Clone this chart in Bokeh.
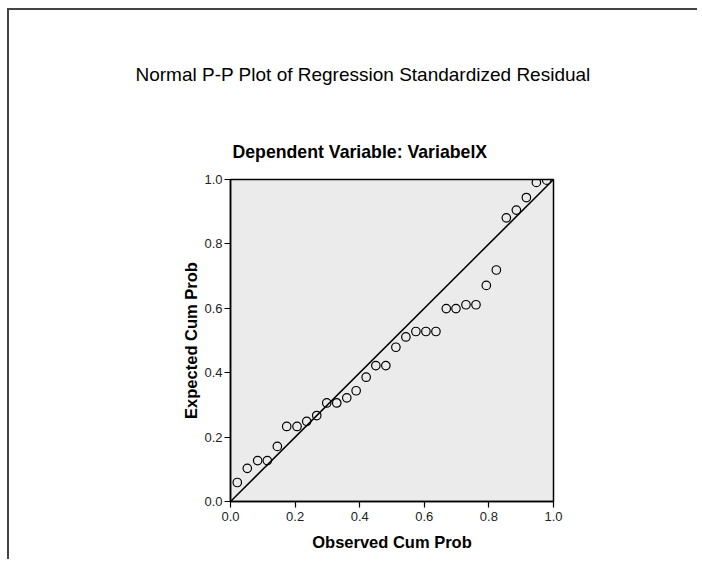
from bokeh.plotting import figure
from bokeh.models import Title, FixedTicker, NumeralTickFormatter, Range1d
from bokeh.embed import file_html
from bokeh.resources import INLINE

# Observed vs expected cumulative probabilities
observed = [0.021, 0.052, 0.084, 0.114, 0.145, 0.174, 0.206, 0.236, 0.267, 0.298,
            0.329, 0.360, 0.389, 0.420, 0.450, 0.481, 0.512, 0.543, 0.574, 0.605,
            0.636, 0.668, 0.698, 0.729, 0.760, 0.792, 0.823, 0.854, 0.885, 0.916,
            0.947, 0.979]
expected = [0.059, 0.103, 0.127, 0.127, 0.171, 0.233, 0.233, 0.249, 0.267, 0.306,
            0.306, 0.322, 0.344, 0.386, 0.422, 0.422, 0.479, 0.511, 0.528, 0.528,
            0.528, 0.599, 0.599, 0.611, 0.611, 0.671, 0.719, 0.881, 0.905, 0.944,
            0.991, 0.998]
diag_x = [0.0, 1.0]
diag_y = [0.0, 1.0]
ticks = [0.0, 0.2, 0.4, 0.6, 0.8, 1.0]

title_text = "Normal P-P Plot of Regression Standardized Residual"
subtitle_text = "Dependent Variable: VariabelX"
x_label = "Observed Cum Prob"
y_label = "Expected Cum Prob"

FONT = "Liberation Sans"

p = figure(width=690, height=551,
           x_range=Range1d(0, 1), y_range=Range1d(0, 1),
           output_backend="svg", toolbar_location=None,
           min_border_left=221, min_border_right=146,
           min_border_top=169, min_border_bottom=60,
           background_fill_color="#ebebeb", border_fill_color="white",
           outline_line_color="black", outline_line_width=1.5,
           title=None)
p.styles = {"margin-left": "7px", "margin-top": "8px",
            "border-left": "2px solid #444", "border-top": "2px solid #444"}

# titles (first added is closest to the plot)
sub = Title(text=subtitle_text, align="left", offset=2, standoff=35,
            text_font=FONT, text_font_size="17.7px", text_font_style="bold",
            text_color="black")
p.add_layout(sub, "above")
main = Title(text=title_text, align="left", offset=-95, standoff=76,
             text_font=FONT, text_font_size="19px", text_font_style="normal",
             text_color="black")
p.add_layout(main, "above")

p.line(diag_x, diag_y, line_color="black", line_width=1.5)
p.scatter(observed, expected, marker="circle", size=8.5, fill_color=None,
          line_color="black", line_width=1.2)

for ax in (p.xaxis[0], p.yaxis[0]):
    ax.ticker = FixedTicker(ticks=ticks)
    ax.formatter = NumeralTickFormatter(format="0.0")
    ax.axis_line_color = "black"
    ax.axis_line_width = 1.5
    ax.major_tick_line_color = "black"
    ax.major_tick_line_width = 1.2
    ax.major_tick_in = 0
    ax.major_tick_out = 6
    ax.minor_tick_line_color = None
    ax.major_label_text_font = FONT
    ax.major_label_text_font_size = "13px"
    ax.major_label_text_color = "#222222"
    ax.axis_label_text_font = FONT
    ax.axis_label_text_font_size = "16.5px"
    ax.axis_label_text_font_style = "bold"
    ax.axis_label_text_color = "black"

p.xaxis.axis_label = x_label
p.yaxis.axis_label = y_label
p.xaxis.major_label_standoff = 4
p.xaxis.axis_label_standoff = 9
p.yaxis.major_label_standoff = 2
p.yaxis.axis_label_standoff = 1
p.yaxis.major_label_orientation = "horizontal"

p.xgrid.grid_line_color = None
p.ygrid.grid_line_color = None

open("out.html", "w").write(file_html(p, INLINE))
